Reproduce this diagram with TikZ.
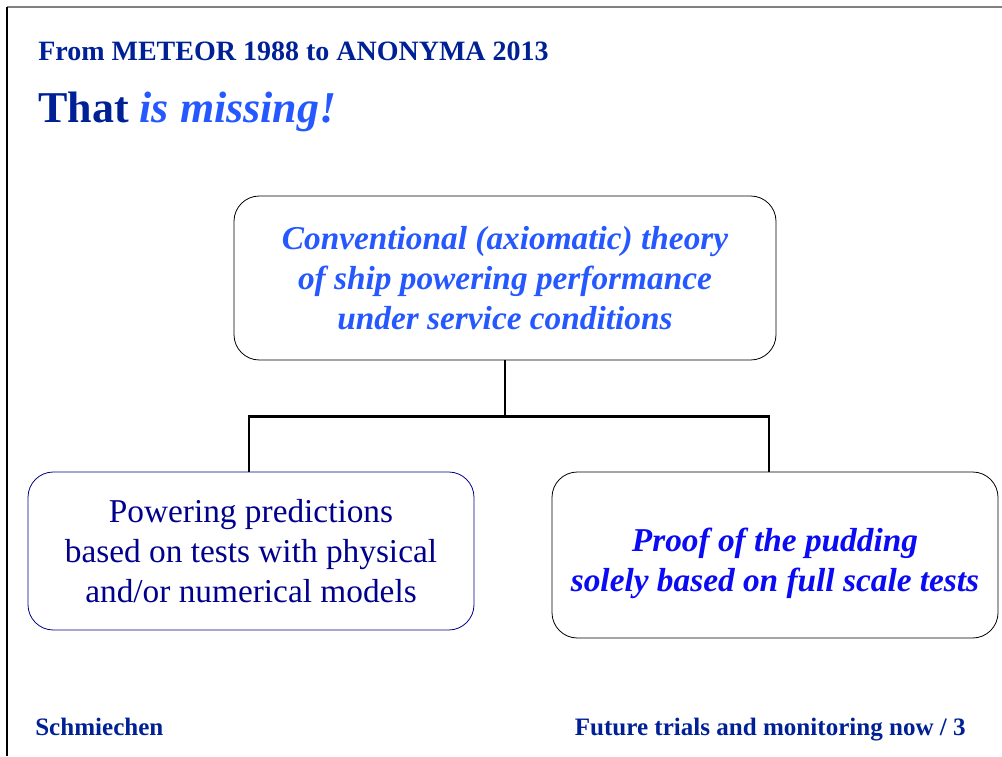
\documentclass[tikz,border=0pt]{standalone}
\usepackage{fontspec}
\setmainfont{Liberation Serif}
\usepackage{tikz}
\usetikzlibrary{positioning,calc}
\definecolor{slideblue}{RGB}{0,32,150}
\definecolor{brightblue}{RGB}{38,88,255}
\definecolor{pureblue}{RGB}{10,10,245}
\definecolor{navyblue}{RGB}{0,0,140}
\tikzset{
  conceptbox/.style={draw,rounded corners=19pt,line width=0.6pt,
    inner sep=0pt,align=center,font=\fontsize{25}{30}\selectfont},
  link/.style={line width=2.2pt},
  slidetext/.style={inner sep=0pt,text=slideblue,font=\bfseries}
}

\begin{document}
\begin{tikzpicture}[x=0.75pt,y=-0.75pt]
  \useasboundingbox (0,0) rectangle (1002,756);
  % slide frame
  \draw[gray,line width=1pt] (7,7) -- (1002,7);
  \draw[black,line width=0.8pt] (7,7) -- (7,756);
  % headings
  \node[slidetext,anchor=base west,font=\bfseries\fontsize{21}{25}\selectfont]
    (subtitle) at (38,61) {From METEOR 1988 to ANONYMA 2013};
  \node[slidetext,anchor=base west,font=\bfseries\fontsize{33}{40}\selectfont]
    (heading) at (38,123) {That \textcolor{brightblue}{\itshape is missing!}};
  % boxes
  \node[conceptbox,minimum width=406.5pt,minimum height=123pt,
    text=brightblue,font=\bfseries\itshape\fontsize{25}{30}\selectfont]
    (theory) at (505,278) {Conventional (axiomatic) theory\\
      of ship powering performance\\under service conditions};
  \node[conceptbox,draw=navyblue,minimum width=334.5pt,minimum height=118.5pt,
    text=navyblue] (predict) at (251,551) {Powering predictions\\
      based on tests with physical\\and/or numerical models};
  \node[conceptbox,minimum width=334.5pt,minimum height=124.5pt,
    text=pureblue,font=\bfseries\itshape\fontsize{25}{30}\selectfont]
    (proof) at (775,555) {\rule{0pt}{30pt}Proof of the pudding\\solely based on full scale tests};
  % connectors
  \coordinate (fork) at ([yshift=-42pt]theory.south);
  \draw[link] ([xshift=-1.5pt]predict.north) |- (fork) -| ([xshift=-4.5pt]proof.north);
  \draw[link] (theory.south) -- (fork);
  % footer
  \node[slidetext,anchor=base west,font=\bfseries\fontsize{18.8}{22}\selectfont]
    (author) at (35,735) {Schmiechen};
  \node[slidetext,anchor=base east,font=\bfseries\fontsize{18.8}{22}\selectfont]
    (pageinfo) at (966,735) {Future trials and monitoring now / 3};
\end{tikzpicture}
\end{document}
